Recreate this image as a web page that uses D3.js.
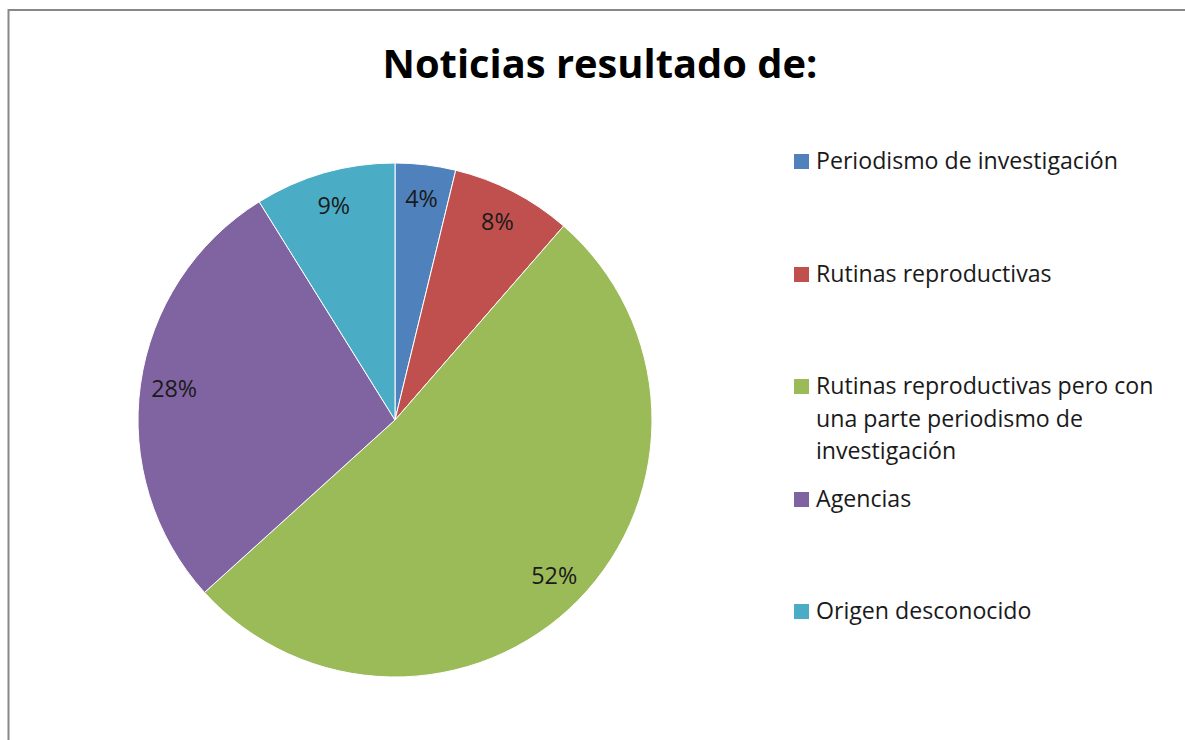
<!DOCTYPE html>
<html>
<head>
<meta charset="utf-8">
<script src="https://cdn.jsdelivr.net/npm/d3@7"></script>
<style>
  body { margin: 0; background: #fff; }
  text { font-family: "Open Sans", "Noto Sans", sans-serif; }
</style>
</head>
<body>
<div id="viz"></div>
<script>
// categories and counts (percentages shown are rounded shares of the total)
const categories = [
  "Periodismo de investigación",
  "Rutinas reproductivas",
  "Rutinas reproductivas pero con una parte periodismo de investigación",
  "Agencias",
  "Origen desconocido"
];
const counts = [3, 6, 41, 22, 7];
const colors = ["#4F81BD", "#C0504D", "#9BBB59", "#8064A2", "#4BACC6"];
// legend lines (wrapped as in the original)
const legendLines = [
  ["Periodismo de investigación"],
  ["Rutinas reproductivas"],
  ["Rutinas reproductivas pero con", "una parte periodismo de", "investigación"],
  ["Agencias"],
  ["Origen desconocido"]
];
const legendRowY = [161, 274, 386, 499, 611];

const width = 1185;
const height = 740;
const cx = 395, cy = 420, radius = 257;

const svg = d3
  .select("#viz")
  .append("svg")
  .attr("width", width)
  .attr("height", height);

// outer frame
svg
  .append("rect")
  .attr("x", 8.5)
  .attr("y", 10)
  .attr("width", width + 10)
  .attr("height", height + 10)
  .attr("fill", "none")
  .attr("stroke", "#888")
  .attr("stroke-width", 2);

// shrink font so text fits a target width (Calibri is narrower than what we have)
function fitText(sel, targetWidth) {
  const node = sel.node();
  const size = parseFloat(sel.attr("font-size"));
  const w = node.getComputedTextLength();
  if (w > 0) sel.attr("font-size", (size * targetWidth) / w);
}

// title
const title = svg
  .append("text")
  .attr("x", 600)
  .attr("y", 78)
  .attr("text-anchor", "middle")
  .attr("font-size", 36)
  .attr("font-weight", "bold")
  .attr("fill", "#000")
  .text("Noticias resultado de:");
fitText(title, 435);

// pie
const pie = d3.pie().sort(null).value((d) => d);
const arcs = pie(counts);
const total = d3.sum(counts);
const arc = d3.arc().innerRadius(0).outerRadius(radius);
const labelArc = d3.arc().innerRadius(223).outerRadius(223);

const g = svg.append("g").attr("transform", `translate(${cx},${cy})`);

g.selectAll("path")
  .data(arcs)
  .enter()
  .append("path")
  .attr("d", arc)
  .attr("fill", (d, i) => colors[i])
  .attr("stroke", "#fff")
  .attr("stroke-width", 1);

const pctLabels = g
  .selectAll("text.pct")
  .data(arcs)
  .enter()
  .append("text")
  .classed("pct", true)
  .attr("transform", (d) => `translate(${labelArc.centroid(d)})`)
  .attr("text-anchor", "middle")
  .attr("dy", "0.35em")
  .attr("font-size", 20)
  .attr("fill", "#1a1a1a")
  .text((d) => `${Math.round((d.value / total) * 100)}%`);

// legend
const legend = svg.append("g");
const lineHeight = 32.5;

const items = legend
  .selectAll("g.item")
  .data(categories)
  .enter()
  .append("g")
  .classed("item", true)
  .attr("transform", (d, i) => `translate(0,${legendRowY[i]})`);

items
  .append("rect")
  .attr("x", 794)
  .attr("y", -7)
  .attr("width", 15)
  .attr("height", 15)
  .attr("fill", (d, i) => colors[i]);

const legendText = items
  .append("text")
  .attr("x", 816)
  .attr("y", 8)
  .attr("font-size", 21)
  .attr("fill", "#1a1a1a");

legendText
  .selectAll("tspan")
  .data((d, i) => legendLines[i])
  .enter()
  .append("tspan")
  .attr("x", 816)
  .attr("dy", (d, j) => (j === 0 ? 0 : lineHeight))
  .text((d) => d);

// match legend text width to the reference (first entry ~302px wide)
const probe = legendText.filter((d, i) => i === 0);
const probeW = probe.node().getComputedTextLength();
const legendSize = (21 * 302) / probeW;
legendText.attr("font-size", legendSize);

// percent labels: "52%" is about 46px wide in the reference
const probePct = pctLabels.filter((d, i) => i === 2);
probePct.attr("font-size", 20);
const pctSize = (20 * 46) / probePct.node().getComputedTextLength();
pctLabels.attr("font-size", pctSize);
</script>
</body>
</html>
